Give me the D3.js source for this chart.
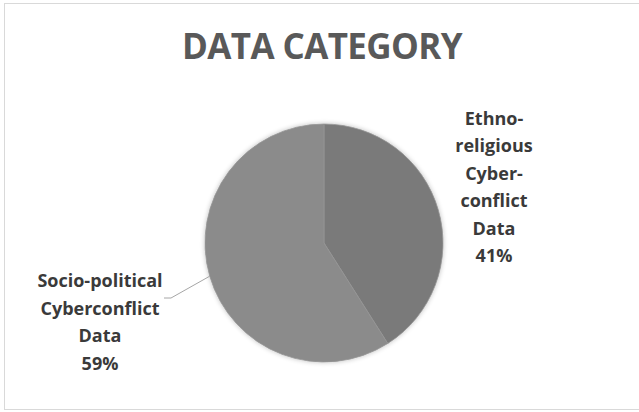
<!DOCTYPE html>
<html>
<head>
<meta charset="utf-8">
<script src="https://cdn.jsdelivr.net/npm/d3@7"></script>
<style>
  body { margin: 0; background: #fff; }
  svg { display: block; font-family: "Open Sans", sans-serif; }
</style>
</head>
<body>
<svg width="639" height="412"></svg>
<script>
const categories = ["Ethno-religious Cyber-conflict Data", "Socio-political Cyberconflict Data"];
const values = [41, 59];
const labelLines = [
    ["Ethno-", "religious", "Cyber-", "conflict", "Data", "41%"],
    ["Socio-political", "Cyberconflict", "Data", "59%"]
];
const colors = ["#7a7a7a", "#8b8b8b"];

const svg = d3.select("svg");
const cx = 324, cy = 243, r = 119;

// chart frame
svg.append("rect")
    .attr("x", 4.5).attr("y", 3.5)
    .attr("width", 640).attr("height", 406)
    .attr("fill", "#fff")
    .attr("stroke", "#d9d9d9");

svg.append("text")
    .attr("x", 322).attr("y", 59)
    .attr("text-anchor", "middle")
    .attr("font-size", 35)
    .attr("font-weight", 700)
    .attr("letter-spacing", -0.6)
    .attr("fill", "#595959")
    .text("DATA CATEGORY");

const defs = svg.append("defs");
const glow = defs.append("filter").attr("id", "glow")
    .attr("x", "-10%").attr("y", "-10%").attr("width", "120%").attr("height", "120%");
glow.append("feGaussianBlur").attr("in", "SourceAlpha").attr("stdDeviation", 2.5).attr("result", "b");
glow.append("feComponentTransfer").attr("in", "b").attr("result", "c")
    .append("feFuncA").attr("type", "linear").attr("slope", 0.25);
const merge = glow.append("feMerge");
merge.append("feMergeNode").attr("in", "c");
merge.append("feMergeNode").attr("in", "SourceGraphic");

const pie = d3.pie().sort(null).value(d => d);
const arcs = pie(values);
const arc = d3.arc().innerRadius(0).outerRadius(r);

const g = svg.append("g").attr("transform", `translate(${cx},${cy})`);
g.append("g").attr("filter", "url(#glow)")
    .selectAll("path")
    .data(arcs)
    .enter()
    .append("path")
    .attr("d", arc)
    .attr("fill", (d, i) => colors[i])
    .attr("stroke", "#959595")
    .attr("stroke-width", 0.8);

// leader line for the left label
const a = arcs[1];
const mid = (a.startAngle + a.endAngle) / 2;
const p0 = [cx + r * Math.sin(mid), cy - r * Math.cos(mid)];
svg.append("polyline")
    .attr("points", [p0, [171, 298], [164, 298]].map(p => p.join(",")).join(" "))
    .attr("fill", "none")
    .attr("stroke", "#a6a6a6")
    .attr("stroke-width", 1);

const labelPos = [[494, 125], [100, 287]];
const lineGap = [27.4, 27.7];
labelLines.forEach((lines, i) => {
    const t = svg.append("text")
        .attr("text-anchor", "middle")
        .attr("font-size", 18)
        .attr("font-weight", 700)
        .attr("fill", "#3a3a3a");
    lines.forEach((s, j) => {
        t.append("tspan")
            .attr("x", labelPos[i][0])
            .attr("y", labelPos[i][1] + j * lineGap[i])
            .text(s);
    });
});
</script>
</body>
</html>
